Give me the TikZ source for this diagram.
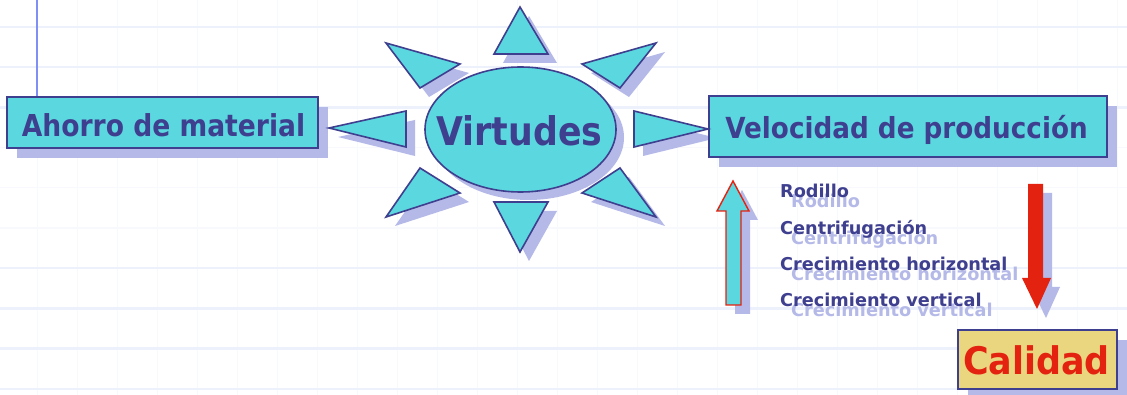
\documentclass[tikz,border=0pt]{standalone}
\usepackage{fontspec}
\usepackage{graphicx}
\usetikzlibrary{shapes.geometric}
\newfontfamily\dv{DejaVu Sans}
\definecolor{cyanf}{HTML}{5BD7E0}
\definecolor{navy}{HTML}{3F3F8F}
\definecolor{shad}{HTML}{B4B9E8}
\definecolor{gridS}{HTML}{EDF1FC}
\definecolor{gridF}{HTML}{F8F9FC}
\definecolor{vline}{HTML}{7F8FF3}
\definecolor{redA}{HTML}{E32210}
\definecolor{gold}{HTML}{EBD680}
\newcommand\raysh[3]{\fill[shad,shift={(9,9)}] #1 -- #2 -- #3 -- cycle;}
\newcommand\rayfg[3]{\draw[ray] #1 -- #2 -- #3 -- cycle;}
\begin{document}
\begin{tikzpicture}[x=1pt,y=-1pt,
  boxst/.style={rectangle, draw=navy, line width=1.5pt, fill=cyanf, inner sep=0pt},
  shadst/.style={rectangle, fill=shad, inner sep=0pt},
  ray/.style={draw=navy, line width=1.6pt, fill=cyanf, line join=miter},
  bigtxt/.style={text=navy, anchor=base, inner sep=0pt},
  listtxt/.style={anchor=base west, inner sep=0pt, font=\dv\bfseries\fontsize{17.7}{20}\selectfont},
]
\useasboundingbox (0,0) rectangle (1127,395);
\begin{scope}
\clip (0,0) rectangle (1127,395);
\fill[white] (0,0) rectangle (1127,395);
% grid
\foreach \k in {0,...,27} \draw[gridF, line width=0.8pt] ({37+40*\k},0) -- ({37+40*\k},395);
\foreach \k in {3,4,5} \draw[gridF, line width=1.2pt] (0,{27+40.2*\k}) -- (1127,{27+40.2*\k});
\foreach \k in {0,1,2,6,7,8,9} \draw[gridS, line width=2.5pt] (0,{27+40.2*\k}) -- (1127,{27+40.2*\k});

% shadows
\node[shadst, minimum width=311, minimum height=51] (ahS) at (172.5,132.5) {};
\node[shadst, minimum width=398, minimum height=61] (veS) at (918,136.5) {};
\node[shadst, minimum width=159, minimum height=59] (caS) at (1047.5,369.5) {};
\node[ellipse, fill=shad, minimum width=191, minimum height=125, inner sep=0pt] (viS) at (528.5,137.5) {};
\raysh{(520,7)}{(494,54)}{(548,54)}
\raysh{(386,43)}{(460,64)}{(420,88)}
\raysh{(656,43)}{(582,64)}{(620,88)}
\raysh{(329,128)}{(406,111)}{(406,147)}
\raysh{(708,129)}{(634,111)}{(634,147)}
\raysh{(420,168)}{(460,193)}{(386,217)}
\raysh{(620,168)}{(582,193)}{(656,217)}
\raysh{(494,202)}{(548,202)}{(520,252)}
\begin{scope}[shift={(9,9)}]
\fill[shad] (733,181) -- (749,211) -- (741,211) -- (741,305) -- (726,305) -- (726,211) -- (717,211) -- cycle;
\fill[shad] (1028,184) -- (1043,184) -- (1043,278) -- (1051,278) -- (1037,309) -- (1022,278) -- (1028,278) -- cycle;
\end{scope}
\begin{scope}[shift={(11,10)}]
\node[listtxt, text=shad] (s1) at (780,198) {Rodillo};
\node[listtxt, text=shad] (s2) at (780,234.5) {Centrifugación};
\node[listtxt, text=shad] (s3) at (780,270.8) {Crecimiento horizontal};
\node[listtxt, text=shad] (s4) at (780,306.8) {Crecimiento vertical};
\end{scope}

% shapes
\node[boxst, minimum width=311, minimum height=51] (ahorro) at (162.5,122.5) {};
\node[boxst, minimum width=398, minimum height=61] (veloc) at (908,126.5) {};
\node[boxst, fill=gold, minimum width=159, minimum height=59] (calid) at (1037.5,359.5) {};
\node[ellipse, draw=navy, line width=1.6pt, fill=cyanf, minimum width=191, minimum height=125, inner sep=0pt] (virt) at (520.5,129.5) {};
\rayfg{(520,7)}{(494,54)}{(548,54)}
\rayfg{(386,43)}{(460,64)}{(420,88)}
\rayfg{(656,43)}{(582,64)}{(620,88)}
\rayfg{(329,128)}{(406,111)}{(406,147)}
\rayfg{(708,129)}{(634,111)}{(634,147)}
\rayfg{(420,168)}{(460,193)}{(386,217)}
\rayfg{(620,168)}{(582,193)}{(656,217)}
\rayfg{(494,202)}{(548,202)}{(520,252)}
\draw[draw=redA, line width=1.4pt, fill=cyanf, line join=miter] (733,181) -- (749,211) -- (741,211) -- (741,305) -- (726,305) -- (726,211) -- (717,211) -- cycle;
\fill[redA] (1028,184) -- (1043,184) -- (1043,278) -- (1051,278) -- (1037,309) -- (1022,278) -- (1028,278) -- cycle;

% vertical margin line
\coordinate (vtop) at (37,0);
\draw[vline, line width=1.5pt] (vtop) -- (vtop |- ahorro.north);

% texts
\node[bigtxt, font=\dv\bfseries\fontsize{30.2}{34}\selectfont] (ahT) at (163.5,137) {\scalebox{0.88}[1]{Ahorro de material}};
\node[bigtxt, font=\dv\bfseries\fontsize{39.5}{44}\selectfont] (viT) at (519.5,146) {\scalebox{0.88}[1]{Virtudes}};
\node[bigtxt, font=\dv\bfseries\fontsize{29}{34}\selectfont] (veT) at (906.5,139) {\scalebox{0.905}[1]{Velocidad de producción}};
\node[bigtxt, text=redA, font=\dv\bfseries\fontsize{38}{42}\selectfont] (caT) at (1036.5,374) {\scalebox{0.92}[1]{Calidad}};
\node[listtxt, text=navy] (l1) at (780,198) {Rodillo};
\node[listtxt, text=navy] (l2) at (780,234.5) {Centrifugación};
\node[listtxt, text=navy] (l3) at (780,270.8) {Crecimiento horizontal};
\node[listtxt, text=navy] (l4) at (780,306.8) {Crecimiento vertical};
\end{scope}
\end{tikzpicture}
\end{document}
